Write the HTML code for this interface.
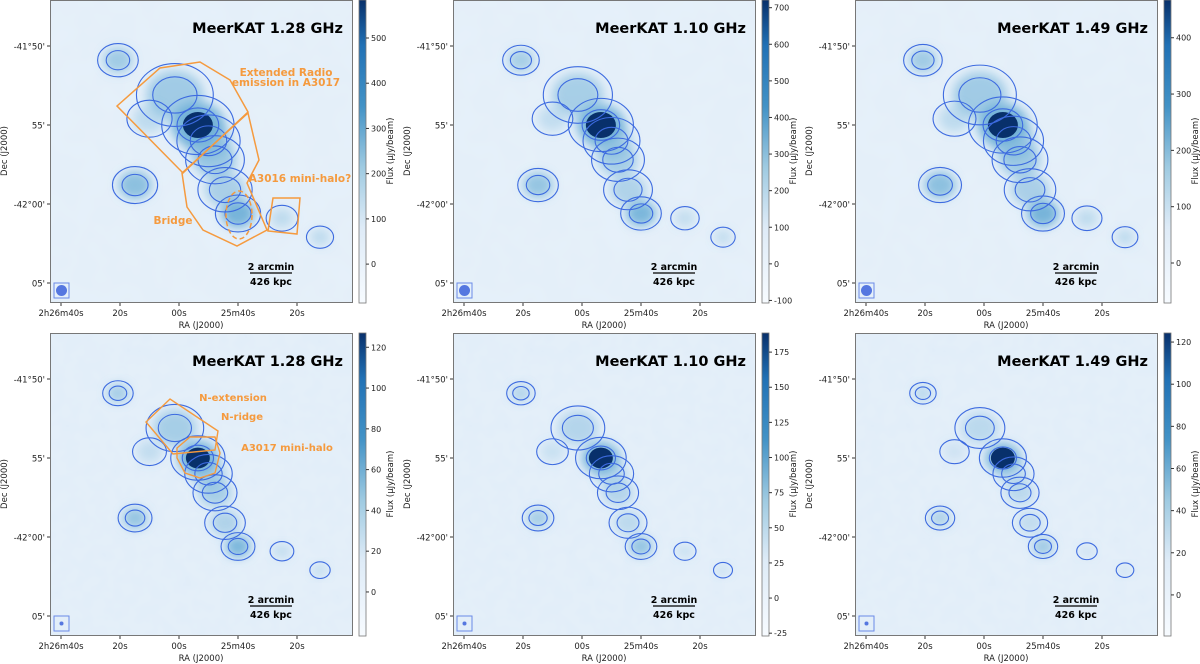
<!DOCTYPE html>
<html><head><meta charset="utf-8"><style>
html,body{margin:0;padding:0;background:#fff;}
svg{display:block;font-family:"DejaVu Sans","Liberation Sans",sans-serif;}
</style></head><body>
<svg id="fig" width="1200" height="664" viewBox="0 0 1200 664" xmlns="http://www.w3.org/2000/svg">
<defs>
<filter id="noise" x="0" y="0" width="100%" height="100%">
<feTurbulence type="fractalNoise" baseFrequency="0.035" numOctaves="2" seed="3"/>
<feColorMatrix type="matrix" values="0 0 0 0 0.80  0 0 0 0 0.88  0 0 0 0 0.96  0 0 0 1.1 -0.35"/>
</filter>
<filter id="noise2" x="0" y="0" width="100%" height="100%">
<feTurbulence type="fractalNoise" baseFrequency="0.07" numOctaves="2" seed="7"/>
<feColorMatrix type="matrix" values="0 0 0 0 0.74  0 0 0 0 0.84  0 0 0 0 0.94  0 0 0 1.2 -0.4"/>
</filter>
<filter id="blur" x="-50%" y="-50%" width="200%" height="200%"><feGaussianBlur stdDeviation="5"/></filter>
<linearGradient id="blues" x1="0" y1="1" x2="0" y2="0">
<stop offset="0" stop-color="#f7fbff"/><stop offset="0.25" stop-color="#deebf7"/><stop offset="0.45" stop-color="#9ecae1"/>
<stop offset="0.65" stop-color="#4292c6"/><stop offset="0.85" stop-color="#2171b5"/><stop offset="1" stop-color="#08306b"/>
</linearGradient>
<clipPath id="clipImg"><rect x="0" y="0" width="303" height="303"/></clipPath>
</defs>
<g id="root"></g>
</svg>
<script>
// ---- data ----
const panelTitles = ["MeerKAT 1.28 GHz","MeerKAT 1.10 GHz","MeerKAT 1.49 GHz","MeerKAT 1.28 GHz","MeerKAT 1.10 GHz","MeerKAT 1.49 GHz"];
const cbMin = [-86,-107,-71,-21.6,-27,-19.5];
const cbMax = [584,721,467,127,188.6,124.3];
const cbTicks0 = [0,100,200,300,400,500];
const cbTicks1 = [-100,0,100,200,300,400,500,600,700];
const cbTicks2 = [0,100,200,300,400];
const cbTicks3 = [0,20,40,60,80,100,120];
const cbTicks4 = [-25,0,25,50,75,100,125,150,175];
const cbTicks5 = [0,20,40,60,80,100,120];
const raTickSec = [0,20,40,60,80];
const raTickLabels = ["2h26m40s","20s","00s","25m40s","20s"];
const decTickMin = [0,5,10,15];
const decTickLabels = ["-41°50'","55'","-42°00'","05'"];
// sources: RA offset (s from 2h26m40s), Dec offset (arcmin south of -41°50'), size, relative brightness
const srcRA  = [46.4, 19.3, 25.1, 60.0, 74.9, 87.8, 38.6, 52.2, 55.6, 50.0, 30.0];
const srcDec = [5.0,  0.9,  8.8, 10.6, 10.9, 12.1, 3.1,  7.2,  9.1,  6.0, 4.6];
const srcSize= [1.6,  0.9,  1.0,  1.0,  0.7,  0.6, 1.7,  1.3,  1.2,  1.4, 1.0];
const srcFlux= [1.0,  0.35, 0.45, 0.6,  0.2,  0.2, 0.35, 0.35, 0.3,  0.3, 0.2];
const panelFluxScale=[1,0.9,1,0.9,0.7,0.6];
const panelSizeScale=[1,0.9,0.95,0.75,0.7,0.65];

const NS="http://www.w3.org/2000/svg";
const root=document.getElementById('root');
function el(tag,attrs,parent){const e=document.createElementNS(NS,tag);for(const k in attrs)e.setAttribute(k,attrs[k]);(parent||root).appendChild(e);return e;}
const cbTicksAll=[cbTicks0,cbTicks1,cbTicks2,cbTicks3,cbTicks4,cbTicks5];
const panelX=[50,453,855], panelY=[0,333], S=303;
function xRA(s){return 11+s*2.95;}
function yDec(d){return 46+d*15.8;}
function cbY(i,v){return S-(v-cbMin[i])/(cbMax[i]-cbMin[i])*S;}

for(let p=0;p<6;p++){
  const col=p%3,row=Math.floor(p/3),ox=panelX[col],oy=panelY[row];
  const g=el('g',{transform:`translate(${ox},${oy})`});
  
  
  const img=el('g',{'clip-path':'url(#clipImg)'},g);
  el('rect',{x:0,y:0,width:S,height:S,fill:'#e4eff9'},img);
  el('rect',{x:0,y:0,width:S,height:S,filter:row?'url(#noise2)':'url(#noise)'},img);
  const fs=panelFluxScale[p], ss=panelSizeScale[p];
  for(let i=0;i<srcRA.length;i++){
    const cx=xRA(srcRA[i]),cy=yDec(srcDec[i]),r=srcSize[i]*15.8*ss;
    const e=el('ellipse',{cx:cx,cy:cy,rx:r*1.05,ry:r*0.9,fill:'#6baed6','fill-opacity':Math.min(0.9,srcFlux[i]*fs*1.6),filter:'url(#blur)'},img);
    
    
  }
  const core=el('ellipse',{cx:xRA(srcRA[0]),cy:yDec(srcDec[0]),rx:15*(row?0.8:1),ry:13*(row?0.8:1),fill:'#08306b'},img);
  
  
  for(let i=0;i<srcRA.length;i++){
    const cx=xRA(srcRA[i]),cy=yDec(srcDec[i]),r=srcSize[i]*15.8*ss;
    [1.3,0.75].forEach((k,j)=>{
      if(j===1&&srcFlux[i]<0.3)return;
      const c=el('ellipse',{cx:cx,cy:cy,rx:r*k*1.1,ry:r*k*0.9,fill:'none',stroke:'#3d6be0','stroke-width':1.1},img);
      
      
    });
  }
  el('rect',{x:0.5,y:0.5,width:S-1,height:S-1,fill:'none',stroke:'#777','stroke-width':1},g);
  const t=el('text',{x:293,y:33,'text-anchor':'end','font-size':14.5,'font-weight':'bold',fill:'#000'},g);
  t.textContent=panelTitles[p];
  
  
  el('line',{x1:200,y1:273,x2:242,y2:273,stroke:'#000','stroke-width':1.3},g);
  const sb1=el('text',{x:221,y:270,'text-anchor':'middle','font-size':9.5,'font-weight':'bold'},g);sb1.textContent='2 arcmin';
  
  
  const sb2=el('text',{x:221,y:285,'text-anchor':'middle','font-size':9.5,'font-weight':'bold'},g);sb2.textContent='426 kpc';
  
  
  el('rect',{x:4,y:283,width:15,height:15,fill:'none',stroke:'#6a8ae8','stroke-width':1},g);
  el('circle',{cx:11.5,cy:290.5,r:row?2:5.5,fill:'#5577e0'},g);
  raTickSec.forEach((s,i)=>{
    const x=xRA(s);
    el('line',{x1:x,y1:S,x2:x,y2:S+3,stroke:'#333'},g);
    const tx=el('text',{x:x,y:S+13,'text-anchor':'middle','font-size':8.5,fill:'#222'},g);
    tx.textContent=raTickLabels[i];
    
    
  });
  decTickMin.forEach((d,i)=>{
    const y=yDec(d);
    el('line',{x1:0,y1:y,x2:-3,y2:y,stroke:'#333'},g);
    const ty=el('text',{x:-5,y:y+3.5,'text-anchor':'end','font-size':8.5,fill:'#222'},g);
    ty.textContent=decTickLabels[i];
    
    
  });
  const xl=el('text',{x:151,y:S+25,'text-anchor':'middle','font-size':8.5,fill:'#222'},g);xl.textContent='RA (J2000)';
  
  
  const yl=el('text',{transform:`translate(-43,151) rotate(-90)`,'text-anchor':'middle','font-size':8.5,fill:'#222'},g);yl.textContent='Dec (J2000)';
  
  
  const cb=el('rect',{x:309,y:0,width:7,height:S,fill:'url(#blues)',stroke:'#777','stroke-width':0.8},g);
  
  
  cbTicksAll[p].forEach(v=>{
    const y=cbY(p,v);
    el('line',{x1:316,y1:y,x2:319,y2:y,stroke:'#333'},g);
    const tt=el('text',{x:321,y:y+3,'font-size':8,fill:'#222'},g);tt.textContent=v;
    
    
  });
  const cl=el('text',{transform:`translate(343,151) rotate(-90)`,'text-anchor':'middle','font-size':8.5,fill:'#222'},g);cl.textContent='Flux (μJy/beam)';
  
  
  const oc='#f59a3e';
  if(p===0){
    [[67,106,110,68,150,62,180,80,198,112,133,173],
     [198,113,209,160,197,183,217,230,187,246,153,230,137,207,132,173]].forEach(pt=>{
      const pg=el('polygon',{points:pt.join(' '),fill:'none',stroke:oc,'stroke-width':1.5},g);
      
      
    });
    const bx=el('polygon',{points:'223,198 250,198 247,234 218,231',fill:'none',stroke:oc,'stroke-width':1.5},g);
    
    
    const de=el('ellipse',{cx:189,cy:215,rx:13,ry:24,fill:'none',stroke:oc,'stroke-width':1.5,'stroke-dasharray':'5,3'},g);
    
    
    [['Extended Radio',236,76],['emission in A3017',236,86],['A3016 mini-halo?',250,182],['Bridge',123,224]].forEach(a=>{
      const at=el('text',{x:a[1],y:a[2],'text-anchor':'middle','font-size':10.5,'font-weight':'bold',fill:oc},g);at.textContent=a[0];
      
      
    });
  }
  if(p===3){
    const p1=el('polygon',{points:'96,89 120,66 168,98 165,117 123,121',fill:'none',stroke:oc,'stroke-width':1.4},g);
    
    
    const p2=el('polygon',{points:'127,115 140,104 165,104 170,120 165,140 150,145 135,140 127,125',fill:'none',stroke:oc,'stroke-width':1.4},g);
    
    
    [['N-extension',183,68],['N-ridge',192,87],['A3017 mini-halo',237,118]].forEach(a=>{
      const at=el('text',{x:a[1],y:a[2],'text-anchor':'middle','font-size':10,'font-weight':'bold',fill:oc},g);at.textContent=a[0];
      
      
    });
  }
}
</script>
</body></html>
